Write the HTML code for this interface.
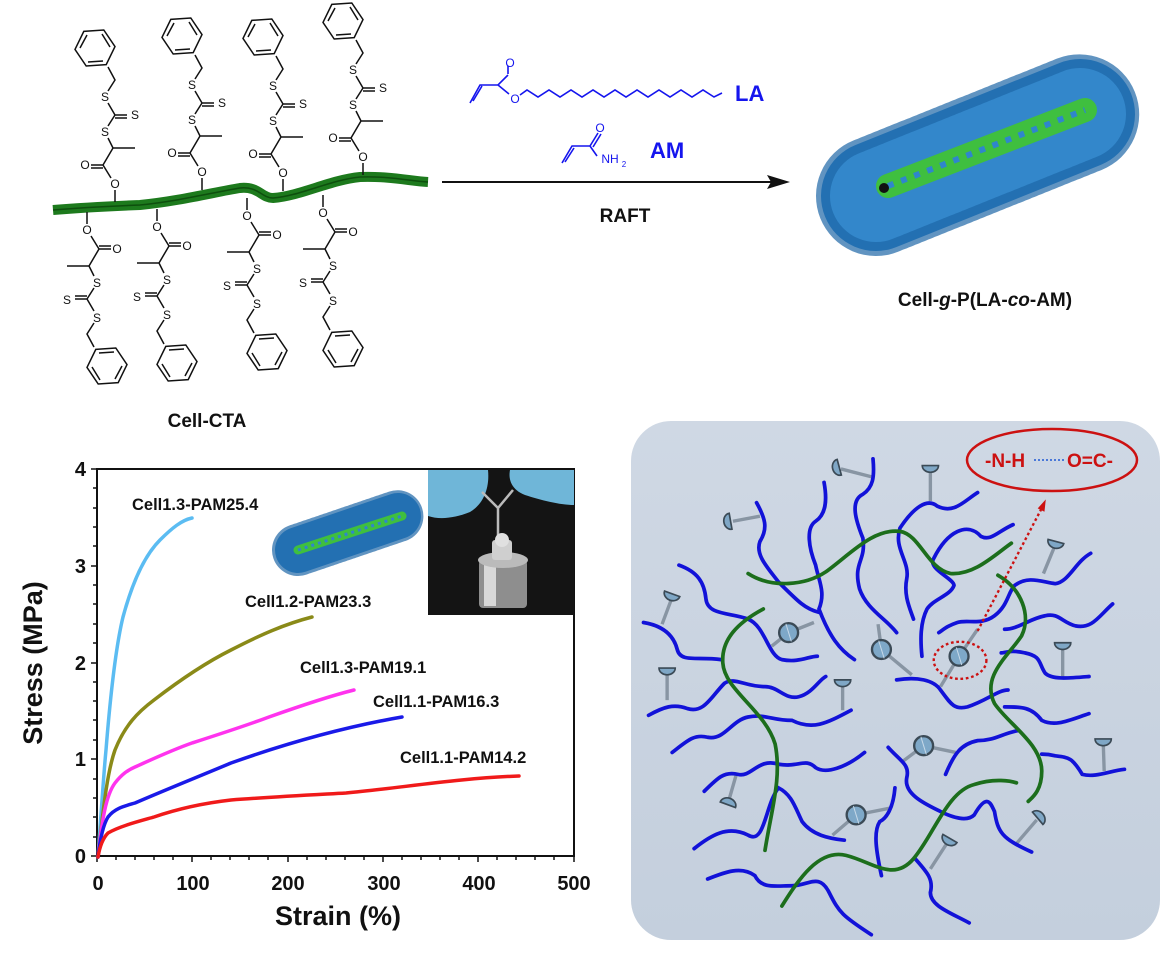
<!DOCTYPE html>
<html><head><meta charset="utf-8">
<style>
html,body{margin:0;padding:0;background:#fff;}
svg{display:block;}
text{font-family:"Liberation Sans",Arial,sans-serif;}
</style></head>
<body>
<svg width="1174" height="955" viewBox="0 0 1174 955" xmlns="http://www.w3.org/2000/svg">
<defs>
  <g id="bondsU" fill="none" stroke="#111" stroke-width="1.5">
    <path d="M0,0 L0,-12 M-4,-24 L-12,-37 L-24,-37 M-12,-34 L-24,-34 M-12,-37 L-2,-54 L20,-54 M-2,-54 L-7,-64 M-7,-76 L0,-87 L12,-87 M0,-84 L12,-84 M0,-87 L-7,-99 M-7,-111 L0,-122 L-7,-135"/>
    <polygon points="-8.8,-137.4 -28.8,-136 -40,-152.6 -31.2,-170.6 -11.2,-172 0,-155.4"/>
    <path d="M-12,-141 L-27,-140 M-35,-154 L-28,-167 M-13,-168 L-5,-155"/>
  </g>
  <linearGradient id="bg" x1="0" y1="0" x2="0" y2="1">
    <stop offset="0" stop-color="#cfd8e4"/><stop offset="1" stop-color="#c4cfdd"/>
  </linearGradient>
  <g id="pinCap">
    <path d="M-24,0 A24,20 0 0 0 24,0 Z" fill="#7fa7c6" stroke="#3b4a56" stroke-width="5"/>
  </g>
  <g id="sphere">
    <circle r="28" fill="#7ea8c8" stroke="#3b4a56" stroke-width="7"/>
    <path d="M-8,-26 L8,26" stroke="#c7d9e8" stroke-width="3"/>
  </g>
</defs>

<!-- ===== Top left: Cell-CTA ===== -->
<path d="M53,210 C90,207 115,206 140,205 C180,201 215,192 240,188 C258,186 262,198 273,198 C300,196 330,180 360,177 C390,176 410,181 428,182" fill="none" stroke="#1d7a1d" stroke-width="10"/>
<path d="M53,210 C90,207 115,206 140,205 C180,201 215,192 240,188 C258,186 262,198 273,198 C300,196 330,180 360,177 C390,176 410,181 428,182" fill="none" stroke="#0d4f0d" stroke-width="1.5"/>

<g font-size="12" text-anchor="middle" fill="#111">
  <g transform="translate(115,202)"><use href="#bondsU"/>
    <text x="0" y="-14">O</text><text x="-30" y="-33">O</text><text x="-10" y="-66">S</text><text x="20" y="-83">S</text><text x="-10" y="-101">S</text></g>
  <g transform="translate(202,190)"><use href="#bondsU"/>
    <text x="0" y="-14">O</text><text x="-30" y="-33">O</text><text x="-10" y="-66">S</text><text x="20" y="-83">S</text><text x="-10" y="-101">S</text></g>
  <g transform="translate(283,191)"><use href="#bondsU"/>
    <text x="0" y="-14">O</text><text x="-30" y="-33">O</text><text x="-10" y="-66">S</text><text x="20" y="-83">S</text><text x="-10" y="-101">S</text></g>
  <g transform="translate(363,175)"><use href="#bondsU"/>
    <text x="0" y="-14">O</text><text x="-30" y="-33">O</text><text x="-10" y="-66">S</text><text x="20" y="-83">S</text><text x="-10" y="-101">S</text></g>

  <g transform="translate(87,212)"><use href="#bondsU" transform="rotate(180)"/>
    <text x="0" y="22">O</text><text x="30" y="41">O</text><text x="10" y="75">S</text><text x="-20" y="92">S</text><text x="10" y="110">S</text></g>
  <g transform="translate(157,209)"><use href="#bondsU" transform="rotate(180)"/>
    <text x="0" y="22">O</text><text x="30" y="41">O</text><text x="10" y="75">S</text><text x="-20" y="92">S</text><text x="10" y="110">S</text></g>
  <g transform="translate(247,198)"><use href="#bondsU" transform="rotate(180)"/>
    <text x="0" y="22">O</text><text x="30" y="41">O</text><text x="10" y="75">S</text><text x="-20" y="92">S</text><text x="10" y="110">S</text></g>
  <g transform="translate(323,195)"><use href="#bondsU" transform="rotate(180)"/>
    <text x="0" y="22">O</text><text x="30" y="41">O</text><text x="10" y="75">S</text><text x="-20" y="92">S</text><text x="10" y="110">S</text></g>
</g>
<text x="207" y="427" font-size="19" font-weight="bold" text-anchor="middle" fill="#111">Cell-CTA</text>

<!-- ===== Reaction ===== -->
<g fill="none" stroke="#1515ee" stroke-width="1.6">
  <path d="M470,103 L480,85 L498,85 L508,75 M473,101 L482,86 M498,85 L509,94"/>
  <path d="M508,74 L508,66"/>
  <path d="M520,95 L527,90 L538,97 L549,90 L560,97 L571,90 L582,97 L593,90 L604,97 L615,90 L626,97 L637,90 L648,97 L659,90 L670,97 L681,90 L692,97 L703,90 L714,97 L722,93"/>
  <path d="M562,163 L572,146 L590,146 L597,156 M565,162 L574,148 M590,146 L598,133 M593,147 L601,134"/>
</g>
<g fill="#1515ee" font-size="12" text-anchor="middle">
  <text x="510" y="67">O</text><text x="515" y="103">O</text>
  <text x="600" y="132">O</text>
  <text x="610" y="163">NH</text><text x="624" y="167" font-size="8">2</text>
</g>
<text x="735" y="101" font-size="22" font-weight="bold" fill="#1515ee">LA</text>
<text x="650" y="158" font-size="22" font-weight="bold" fill="#1515ee">AM</text>
<line x1="442" y1="182" x2="772" y2="182" stroke="#111" stroke-width="2"/>
<polygon points="790,182 767,175 771,182 767,189" fill="#111"/>
<text x="625" y="222" font-size="19" font-weight="bold" text-anchor="middle" fill="#111">RAFT</text>

<!-- ===== Bottle brush (top right) ===== -->
<g>
  <line x1="876" y1="196" x2="1080" y2="114" stroke="#2f86cc" stroke-width="110" stroke-linecap="round"/>
  <line x1="876" y1="196" x2="1080" y2="114" stroke="#1f68a8" stroke-width="120" stroke-linecap="round" stroke-dasharray="2 5" opacity="0.7"/>
  <line x1="876" y1="196" x2="1080" y2="114" stroke="#3a92d6" stroke-width="92" stroke-linecap="round" stroke-dasharray="3 4" opacity="0.7"/>
  <line x1="888" y1="186" x2="1085" y2="110" stroke="#3fbf3f" stroke-width="24" stroke-linecap="round"/>
  <line x1="888" y1="186" x2="1085" y2="110" stroke="#2f86cc" stroke-width="6" stroke-dasharray="6 8"/>
  <circle cx="884" cy="188" r="5" fill="#111"/>
</g>
<text x="985" y="306" font-size="19" font-weight="bold" text-anchor="middle" fill="#111">Cell-<tspan font-style="italic">g</tspan>-P(LA-<tspan font-style="italic">co</tspan>-AM)</text>

<!-- ===== Chart ===== -->
<g stroke="#111" stroke-width="2" fill="none">
  <rect x="97" y="469" width="477" height="387"/>
</g>
<g stroke="#111" stroke-width="1.5">
  <path d="M97,856 v6 M192,856 v6 M288,856 v6 M383,856 v6 M478,856 v6 M574,856 v6"/>
  <path d="M116,856 v4 M135,856 v4 M154,856 v4 M173,856 v4 M211,856 v4 M230,856 v4 M249,856 v4 M268,856 v4 M307,856 v4 M326,856 v4 M345,856 v4 M364,856 v4 M402,856 v4 M421,856 v4 M440,856 v4 M459,856 v4 M497,856 v4 M516,856 v4 M535,856 v4 M554,856 v4"/>
  <path d="M97,856 h-6 M97,759 h-6 M97,663 h-6 M97,566 h-6 M97,469 h-6"/>
  <path d="M97,837 h-4 M97,817 h-4 M97,798 h-4 M97,779 h-4 M97,740 h-4 M97,720 h-4 M97,701 h-4 M97,682 h-4 M97,643 h-4 M97,624 h-4 M97,604 h-4 M97,585 h-4 M97,546 h-4 M97,527 h-4 M97,508 h-4 M97,488 h-4"/>
</g>
<g font-size="20" font-weight="bold" fill="#111" text-anchor="end">
  <text x="86" y="863">0</text><text x="86" y="766">1</text><text x="86" y="670">2</text><text x="86" y="573">3</text><text x="86" y="476">4</text>
</g>
<g font-size="20" font-weight="bold" fill="#111" text-anchor="middle">
  <text x="98" y="890">0</text><text x="193" y="890">100</text><text x="288" y="890">200</text><text x="384" y="890">300</text><text x="479" y="890">400</text><text x="574" y="890">500</text>
</g>
<text x="338" y="925" font-size="27" font-weight="bold" text-anchor="middle" fill="#111">Strain (%)</text>
<text transform="translate(42,663) rotate(-90)" font-size="27" font-weight="bold" text-anchor="middle" fill="#111">Stress (MPa)</text>

<g fill="none" stroke-width="3.5" stroke-linecap="round">
  <path d="M98,857 C102,800 104,770 106,750 C110,700 115,650 123,617 C133,580 145,555 160,540 C172,528 182,520 192,518" stroke="#5bbcf2"/>
  <path d="M98,857 C104,800 108,770 115,750 C125,725 138,712 154,700 C180,680 205,663 231,650 C260,635 285,624 312,617" stroke="#8a8a18"/>
  <path d="M98,857 C102,820 106,795 115,783 C122,774 128,770 135,767 C155,758 172,750 192,743 C220,734 245,726 269,717 C300,706 330,696 354,690" stroke="#ff33ee"/>
  <path d="M98,857 C100,840 103,825 108,817 C115,808 125,806 135,803 C165,790 200,776 231,763 C290,742 350,726 402,717" stroke="#1a1ae8"/>
  <path d="M98,857 C100,845 103,838 108,833 C120,826 140,821 154,817 C180,808 205,803 231,800 C270,797 310,795 346,793 C400,788 460,778 519,776" stroke="#f01a1a"/>
</g>
<g font-size="16.5" font-weight="bold" fill="#111">
  <text x="132" y="510">Cell1.3-PAM25.4</text>
  <text x="245" y="607">Cell1.2-PAM23.3</text>
  <text x="300" y="673">Cell1.3-PAM19.1</text>
  <text x="373" y="707">Cell1.1-PAM16.3</text>
  <text x="400" y="763">Cell1.1-PAM14.2</text>
</g>
<!-- small brush -->
<g>
  <line x1="298" y1="550" x2="398" y2="516" stroke="#2f86cc" stroke-width="46" stroke-linecap="round"/>
  <line x1="298" y1="550" x2="398" y2="516" stroke="#1f68a8" stroke-width="52" stroke-linecap="round" stroke-dasharray="1.5 3" opacity="0.7"/>
  <line x1="298" y1="550" x2="402" y2="516" stroke="#3fbf3f" stroke-width="9" stroke-linecap="round"/>
  <line x1="298" y1="550" x2="402" y2="516" stroke="#2f86cc" stroke-width="3" stroke-dasharray="3 4"/>
</g>
<!-- photo -->
<g>
  <rect x="428" y="470" width="146" height="145" fill="#141414"/>
  <path d="M428,470 H488 C490,490 482,505 470,512 C455,518 440,520 428,516 Z" fill="#6fb6d8"/>
  <path d="M510,470 H574 V505 C560,505 540,500 525,495 C512,490 508,480 510,470 Z" fill="#6fb6d8"/>
  <path d="M482,492 L498,508 L513,490 M498,508 L498,540" stroke="#bbb" stroke-width="2.5" fill="none"/>
  <rect x="479" y="560" width="48" height="48" rx="4" fill="#8e8e8e"/>
  <rect x="484" y="562" width="12" height="44" fill="#d8d8d8"/>
  <ellipse cx="503" cy="560" rx="25" ry="8" fill="#bbbbbb"/>
  <rect x="492" y="540" width="20" height="20" rx="3" fill="#cfcfcf"/>
  <circle cx="502" cy="540" r="7" fill="#e0e0e0"/>
</g>

<!-- ===== Network panel ===== -->
<rect x="631" y="421" width="529" height="519" rx="40" fill="url(#bg)"/>
<g transform="translate(630,420) scale(0.3375)">
  <g stroke="#8895a3" stroke-width="10" fill="none">
    <path d="M625,145 L715,168 M890,145 L890,240 M305,300 L385,285 M125,525 L95,605 M110,745 L110,830 M630,778 L630,860 M1260,370 L1225,455 M1282,668 L1282,760 M1402,950 L1405,1040 M292,1130 L315,1050 M945,1245 L890,1330 M1205,1185 L1145,1255 M470,630 L545,600 M470,630 L420,670 M745,680 L735,605 M745,680 L835,755 M975,700 L1030,620 M975,700 L920,790 M870,965 L965,985 M870,965 L810,1010 M670,1170 L770,1150 M670,1170 L600,1230"/>
  </g>
  <g fill="none" stroke="#1212d8" stroke-width="11" stroke-linecap="round">
    <path d="M145,430 C200,450 220,480 225,530 C230,580 300,570 350,590 C400,610 410,700 450,710 C500,720 530,700 555,700"/>
    <path d="M40,600 C100,610 130,640 140,680 C150,720 200,700 270,710"/>
    <path d="M55,875 C100,850 130,840 170,855 C220,870 240,820 280,780 C310,760 340,790 400,790 C440,790 460,830 500,820 C540,810 560,770 580,760"/>
    <path d="M125,985 C170,950 190,930 230,940 C280,950 300,890 350,880 C400,870 420,890 480,890 C540,920 580,900 655,860"/>
    <path d="M220,1100 C260,1060 280,1040 320,1050 C360,1060 380,1000 440,1020 C500,1030 520,1000 550,1030 C580,1050 640,1030 695,985"/>
    <path d="M190,1270 C240,1230 290,1200 350,1230 C400,1260 400,1140 440,1090 C480,1110 490,1150 510,1190 C540,1230 590,1240 635,1245"/>
    <path d="M230,1360 C280,1340 330,1320 370,1350 C390,1390 430,1380 480,1380 C530,1380 560,1340 590,1400 C620,1460 630,1470 715,1525"/>
    <path d="M720,115 C725,170 720,200 690,220 C650,240 670,300 690,350 C700,420 660,420 680,500 C700,560 760,590 790,630"/>
    <path d="M575,185 C585,240 580,280 550,300 C520,320 530,380 550,430 C560,480 580,510 560,560 C590,640 620,680 665,710"/>
    <path d="M375,245 C400,290 410,320 385,360 C370,400 410,440 440,480 C500,540 520,560 560,570"/>
    <path d="M1030,215 C990,240 960,280 910,255 C880,230 840,260 800,320 C780,380 830,420 820,470 C810,520 830,560 840,590"/>
    <path d="M1135,310 C1090,330 1070,360 1040,345 C1000,300 940,330 900,410 C880,440 960,470 960,490 C950,520 900,530 880,560 C860,600 860,650 865,700"/>
    <path d="M1365,395 C1320,420 1300,480 1260,485 C1220,480 1180,460 1140,490 C1120,510 1120,550 1080,580 C1040,610 1000,590 970,600 C940,610 930,620 915,630"/>
    <path d="M1430,545 C1390,580 1370,620 1320,610 C1280,600 1270,570 1230,580 C1180,590 1150,620 1110,620"/>
    <path d="M790,770 C850,760 900,770 920,800 C950,840 960,860 1000,850 C1060,830 1090,800 1120,800"/>
    <path d="M1360,760 C1300,765 1250,770 1230,750 C1210,720 1220,700 1170,690 C1130,680 1110,690 1100,690"/>
    <path d="M1360,870 C1300,890 1260,910 1220,890 C1190,850 1160,850 1110,850"/>
    <path d="M935,1050 C960,990 980,960 1030,950 C1080,950 1100,930 1150,920"/>
    <path d="M1465,1035 C1420,1040 1380,1060 1340,1050 C1310,1000 1300,1000 1260,995 C1240,990 1230,990 1220,990"/>
    <path d="M765,970 C800,1010 830,1020 820,1060 C810,1110 880,1140 920,1160 C960,1180 1000,1190 1020,1170 C1060,1100 1070,1140 1080,1160 C1090,1220 1100,1240 1190,1280"/>
    <path d="M785,1090 C780,1150 760,1180 740,1190 C720,1220 730,1280 745,1350"/>
    <path d="M845,1300 C880,1340 900,1360 890,1400 C890,1440 950,1460 1005,1490"/>
  </g>
  <g fill="none" stroke="#1c6e1c" stroke-width="11" stroke-linecap="round">
    <path d="M350,455 C420,500 520,490 580,450 C650,400 720,320 800,330 C860,340 880,440 950,455 C1020,460 1080,400 1130,365"/>
    <path d="M395,560 C320,600 270,650 275,720 C280,800 400,860 430,960 C450,1060 420,1150 400,1275"/>
    <path d="M1090,460 C1160,500 1190,580 1160,640 C1120,700 1040,760 1080,840 C1120,900 1220,960 1220,1040 C1220,1100 1190,1120 1180,1130"/>
    <path d="M450,1440 C500,1360 560,1270 640,1290 C720,1310 780,1370 840,1300 C900,1230 940,1100 1020,1080 C1080,1060 1130,1070 1145,1075"/>
  </g>
  <use href="#pinCap" transform="translate(620,140) rotate(75)"/>
  <use href="#pinCap" transform="translate(890,135)"/>
  <use href="#pinCap" transform="translate(298,300) rotate(80)"/>
  <use href="#pinCap" transform="translate(125,515) rotate(20)"/>
  <use href="#pinCap" transform="translate(110,735)"/>
  <use href="#pinCap" transform="translate(630,770)"/>
  <use href="#pinCap" transform="translate(1262,360) rotate(15)"/>
  <use href="#pinCap" transform="translate(1282,660)"/>
  <use href="#pinCap" transform="translate(1402,945)"/>
  <use href="#pinCap" transform="translate(290,1140) rotate(200)"/>
  <use href="#pinCap" transform="translate(948,1240) rotate(30)"/>
  <use href="#pinCap" transform="translate(1208,1180) rotate(230)"/>
  <use href="#sphere" transform="translate(470,630)"/>
  <use href="#sphere" transform="translate(745,680)"/>
  <use href="#sphere" transform="translate(975,700)"/>
  <use href="#sphere" transform="translate(870,965)"/>
  <use href="#sphere" transform="translate(670,1170)"/>
  <ellipse cx="978" cy="712" rx="78" ry="55" fill="none" stroke="#cc1111" stroke-width="7" stroke-dasharray="8 8"/>
  <path d="M1030,625 L1218,265" stroke="#cc1111" stroke-width="7" stroke-dasharray="8 8" fill="none"/>
  <polygon points="1232,235 1208,262 1228,272" fill="#cc1111"/>
</g>
<ellipse cx="1052" cy="460" rx="85" ry="31" fill="none" stroke="#cc1111" stroke-width="2.5"/>
<text x="985" y="467" font-size="19" font-weight="bold" fill="#cc1111">-N-H</text>
<line x1="1034" y1="460" x2="1066" y2="460" stroke="#4a78d8" stroke-width="2" stroke-dasharray="2 2"/>
<text x="1067" y="467" font-size="19" font-weight="bold" fill="#cc1111">O=C-</text>
</svg>
</body></html>
